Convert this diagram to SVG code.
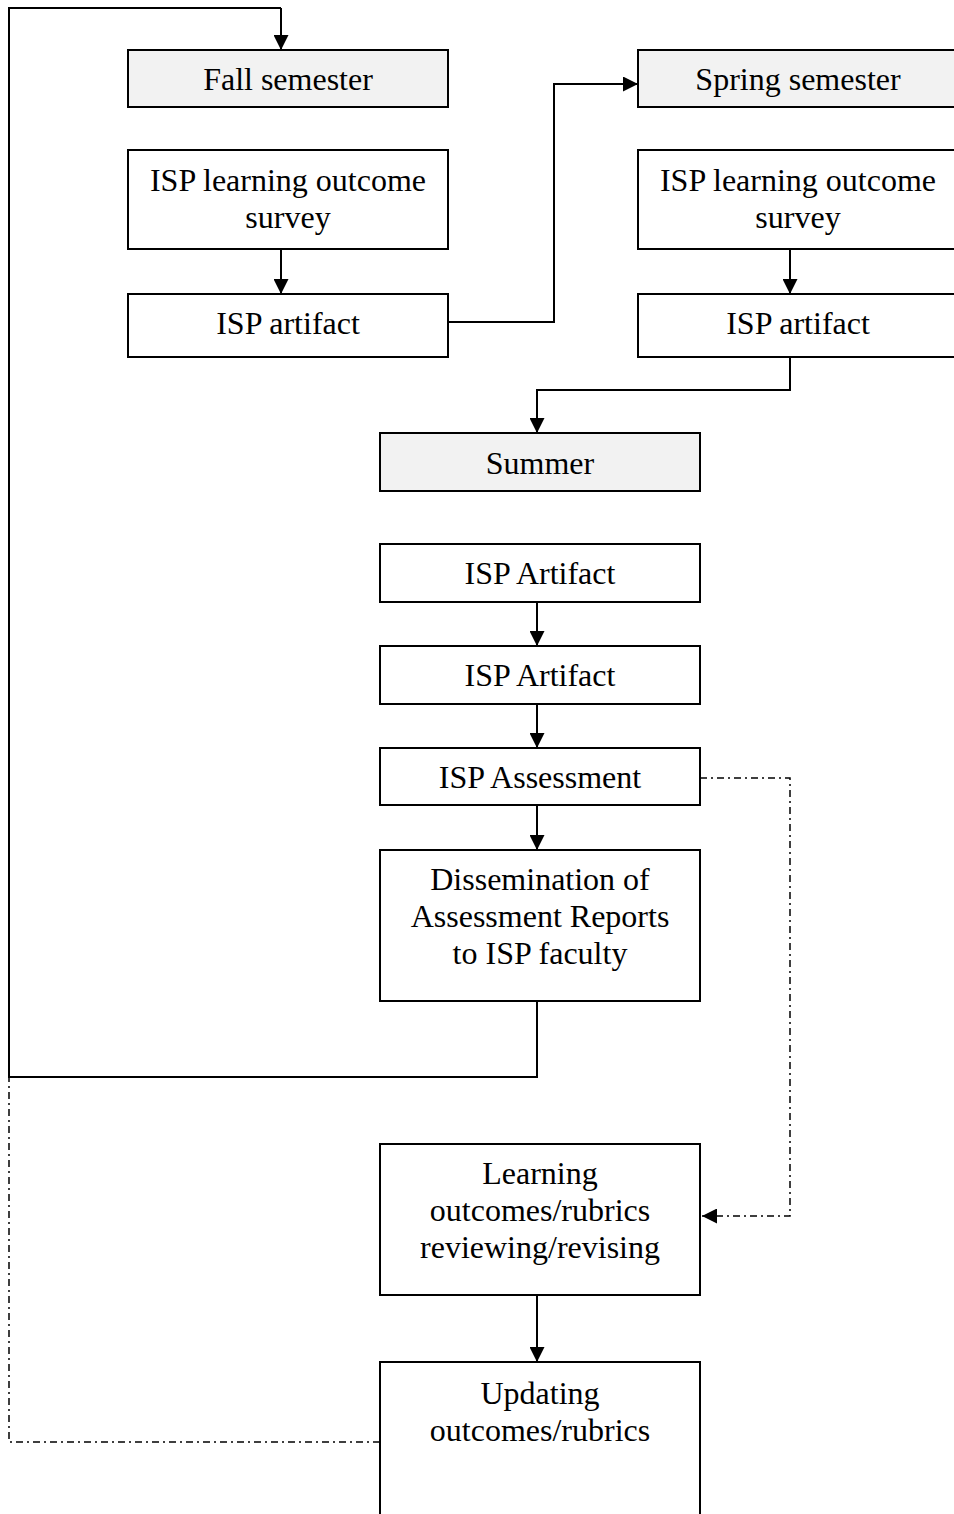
<svg xmlns="http://www.w3.org/2000/svg" width="954" height="1514" viewBox="0 0 954 1514">
<defs>
<marker id="arr" markerWidth="15" markerHeight="15" viewBox="0 0 15 15" refX="15" refY="7.5" orient="auto" markerUnits="userSpaceOnUse">
<path d="M0,0 L15,7.5 L0,15 Z" fill="#000"/>
</marker>
<style>
.box{fill:#fff;stroke:#000;stroke-width:2}
.hdr{fill:#f2f2f2;stroke:#000;stroke-width:2}
.t{font-family:"Liberation Serif","Times New Roman",serif;font-size:32px;fill:#000;text-anchor:middle}
.c{fill:none;stroke:#000;stroke-width:2}
.d{fill:none;stroke:#000;stroke-width:1.5;stroke-dasharray:7 4 2 4}
</style>
</defs>
<rect width="954" height="1514" fill="#fff"/>
<g id="connectors">
<path class="c" d="M281,8 H9 V1077 H537 V1001"/>
<path class="c" d="M281,8 V50" marker-end="url(#arr)"/>
<path class="c" d="M281,249 V294" marker-end="url(#arr)"/>
<path class="c" d="M448,322 H554 V84 H638" marker-end="url(#arr)"/>
<path class="c" d="M790,249 V294" marker-end="url(#arr)"/>
<path class="c" d="M790,357 V390 H537 V433" marker-end="url(#arr)"/>
<path class="c" d="M537,602 V646" marker-end="url(#arr)"/>
<path class="c" d="M537,704 V748" marker-end="url(#arr)"/>
<path class="c" d="M537,805 V850" marker-end="url(#arr)"/>
<path class="c" d="M537,1295 V1362" marker-end="url(#arr)"/>
<path class="d" d="M700,778 H790 V1216 H702" marker-end="url(#arr)"/>
<path class="d" d="M380,1442 H9 V1077"/>
</g>
<g id="fall"><rect class="hdr" x="128" y="50" width="320" height="57"/><text class="t" x="288" y="90">Fall semester</text></g>
<g id="survey1"><rect class="box" x="128" y="150" width="320" height="99"/><text class="t" x="288" y="191">ISP learning outcome</text><text class="t" x="288" y="228">survey</text></g>
<g id="artifact1"><rect class="box" x="128" y="294" width="320" height="63"/><text class="t" x="288" y="334">ISP artifact</text></g>
<g id="spring"><rect class="hdr" x="638" y="50" width="330" height="57"/><text class="t" x="798" y="90">Spring semester</text></g>
<g id="survey2"><rect class="box" x="638" y="150" width="330" height="99"/><text class="t" x="798" y="191">ISP learning outcome</text><text class="t" x="798" y="228">survey</text></g>
<g id="artifact2"><rect class="box" x="638" y="294" width="330" height="63"/><text class="t" x="798" y="334">ISP artifact</text></g>
<g id="summer"><rect class="hdr" x="380" y="433" width="320" height="58"/><text class="t" x="540" y="474">Summer</text></g>
<g id="artifact3"><rect class="box" x="380" y="544" width="320" height="58"/><text class="t" x="540" y="584">ISP Artifact</text></g>
<g id="artifact4"><rect class="box" x="380" y="646" width="320" height="58"/><text class="t" x="540" y="686">ISP Artifact</text></g>
<g id="assessment"><rect class="box" x="380" y="748" width="320" height="57"/><text class="t" x="540" y="788">ISP Assessment</text></g>
<g id="dissemination"><rect class="box" x="380" y="850" width="320" height="151"/><text class="t" x="540" y="890">Dissemination of</text><text class="t" x="540" y="927">Assessment Reports</text><text class="t" x="540" y="964">to ISP faculty</text></g>
<g id="reviewing"><rect class="box" x="380" y="1144" width="320" height="151"/><text class="t" x="540" y="1184">Learning</text><text class="t" x="540" y="1221">outcomes/rubrics</text><text class="t" x="540" y="1258">reviewing/revising</text></g>
<g id="updating"><rect class="box" x="380" y="1362" width="320" height="170"/><text class="t" x="540" y="1404">Updating</text><text class="t" x="540" y="1441">outcomes/rubrics</text></g>
</svg>
